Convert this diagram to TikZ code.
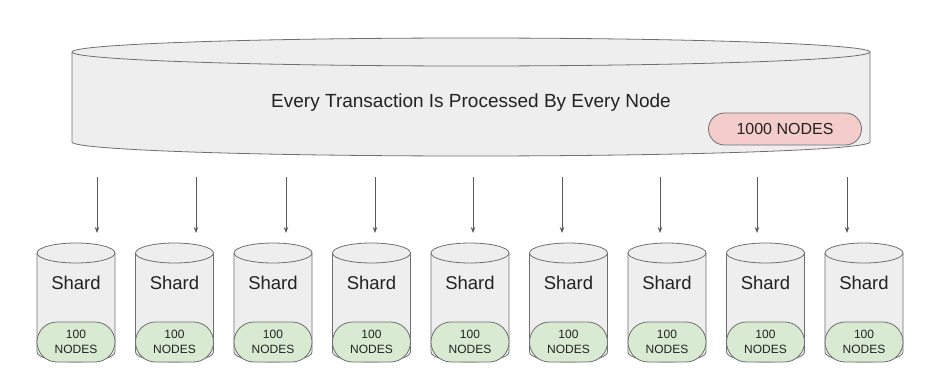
\documentclass[tikz,border=0pt]{standalone}
\usepackage{fontspec}
\setmainfont{Liberation Sans}
\usepackage{xcolor}
\usepackage{tikz}
\usetikzlibrary{arrows.meta}
\definecolor{drumfill}{HTML}{EEEEEE}
\definecolor{drumline}{HTML}{6F6F6F}
\definecolor{flowline}{HTML}{595959}
\definecolor{pinkfill}{HTML}{F4CCCC}
\definecolor{greenfill}{HTML}{D9EAD3}
\definecolor{inktext}{HTML}{222222}

\begin{document}
\begin{tikzpicture}[x=1pt,y=1pt,text=inktext,
    edge/.style={draw=drumline, line width=0.8pt},
    pill/.style={draw=drumline, line width=0.8pt, rounded corners=#1, inner sep=0pt, align=center},
    flow/.style={-{Stealth[length=6pt,width=4.5pt]}, draw=flowline, line width=0.8pt}]
  \useasboundingbox (0,0) rectangle (945,-377);
  % the big drum
  \draw[edge, fill=drumfill] (72,-52) -- (72,-142) arc (180:360:399 and 14) -- (870,-52) arc (0:180:399 and 14) -- cycle;
  \draw[edge] (72,-52) arc (180:360:399 and 14);
  \node[font=\fontsize{19}{23}\selectfont] (title) at (471,-103) {Every Transaction Is Processed By Every Node};
  \node[pill=16pt, fill=pinkfill, minimum width=153pt, minimum height=32pt, font=\fontsize{16}{19}\selectfont] (total) at (785,-129) {1000 NODES};
  % shards
  \foreach \ax [count=\i from 0] in {97,196,286,375,473,562,660,757,847} {
    \pgfmathsetmacro{\cx}{76+98.5*\i}
    \draw[edge, fill=drumfill] (\cx-39,-253) -- (\cx-39,-352) arc (180:360:39 and 10) -- (\cx+39,-253) arc (0:180:39 and 10) -- cycle;
    \draw[edge] (\cx-39,-253) arc (180:360:39 and 10);
    \node[font=\fontsize{18.5}{22}\selectfont] (shard\i) at (\cx,-283) {Shard};
    \node[pill=20pt, fill=greenfill, minimum width=78pt, minimum height=40pt, font=\fontsize{12}{15}\selectfont] (nodes\i) at (\cx,-342) {100\\NODES};
    \coordinate (src\i) at (\ax,-177);
    \coordinate (dst\i) at (\ax,-233);
    \draw[flow] (src\i) -- (dst\i);
  }
\end{tikzpicture}
\end{document}
